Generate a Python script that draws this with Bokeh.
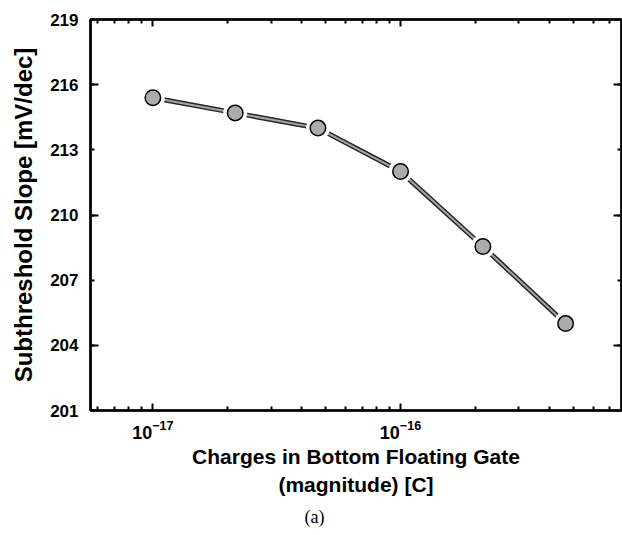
from bokeh.plotting import figure
from bokeh.models import (FixedTicker, LogAxis, LinearAxis, Title, CustomJSTickFormatter,
                          LogTickFormatter, Range1d)
from bokeh.embed import file_html
from bokeh.resources import INLINE

# ---- data ----
charge = [1.0e-17, 2.15e-17, 4.64e-17, 1.0e-16, 2.15e-16, 4.64e-16]
slope = [215.4, 214.7, 214.0, 212.0, 208.55, 205.0]

x_major = [1e-17, 1e-16]
x_minor = [6e-18, 7e-18, 8e-18, 9e-18,
           2e-17, 3e-17, 4e-17, 5e-17, 6e-17, 7e-17, 8e-17, 9e-17,
           2e-16, 3e-16, 4e-16, 5e-16, 6e-16, 7e-16]
y_ticks = [201, 204, 207, 210, 213, 216, 219]
y_long_ticks = [204, 210, 216]

x_lim = (5.6e-18, 7.8e-16)
y_lim = (201, 219)

x_title = "Charges in Bottom Floating Gate"
x_title2 = "(magnitude) [C]"
y_title = "Subthreshold Slope [mV/dec]"
caption = "(a)"

FONT = "Liberation Sans"

p = figure(width=622, height=535, x_axis_type="log",
           x_range=Range1d(*x_lim), y_range=Range1d(*y_lim),
           output_backend="svg", toolbar_location=None,
           min_border_left=90, min_border_right=1, min_border_top=19, min_border_bottom=125)
p.grid.visible = False
p.outline_line_color = "black"
p.outline_line_width = 2
p.background_fill_color = "white"
p.border_fill_color = "white"

blank_fmt = CustomJSTickFormatter(code="return '';")

def style_axis(ax, long_in, short_in):
    ax.axis_line_width = 2.5
    ax.axis_line_color = "black"
    ax.major_tick_in = long_in
    ax.major_tick_out = 0
    ax.minor_tick_in = short_in
    ax.minor_tick_out = 0
    ax.major_tick_line_width = 2
    ax.minor_tick_line_width = 2
    ax.major_tick_line_color = "black"
    ax.minor_tick_line_color = "black"

# bottom x axis
xa = p.xaxis[0]
xa.ticker = FixedTicker(ticks=x_major, minor_ticks=x_minor)
xa.formatter = LogTickFormatter()
style_axis(xa, 7, 4)
xa.major_label_text_font = FONT
xa.major_label_text_font_style = "bold"
xa.major_label_text_font_size = "18px"
xa.major_label_text_color = "black"
xa.major_label_standoff = 9
xa.axis_label = x_title
xa.axis_label_text_font = FONT
xa.axis_label_text_font_style = "bold"
xa.axis_label_text_font_size = "21px"
xa.axis_label_text_color = "black"
xa.axis_label_standoff = 3

# top x axis (ticks only)
xt = LogAxis(ticker=FixedTicker(ticks=x_major, minor_ticks=x_minor), formatter=blank_fmt)
style_axis(xt, 7, 4)
xt.major_label_text_font_size = "0px"
xt.major_label_standoff = 0
p.add_layout(xt, "above")

# left y axis
ya = p.yaxis[0]
ya.ticker = FixedTicker(ticks=y_ticks, minor_ticks=y_long_ticks)
style_axis(ya, 4, 8)
ya.major_label_text_font = FONT
ya.major_label_text_font_style = "bold"
ya.major_label_text_font_size = "17px"
ya.major_label_text_color = "black"
ya.major_label_standoff = 12
ya.axis_label = y_title
ya.axis_label_text_font = FONT
ya.axis_label_text_font_style = "bold"
ya.axis_label_text_font_size = "24px"
ya.axis_label_text_color = "black"
ya.axis_label_standoff = 10

# right y axis (ticks only)
yr = LinearAxis(ticker=FixedTicker(ticks=y_ticks, minor_ticks=y_long_ticks), formatter=blank_fmt)
style_axis(yr, 4, 8)
yr.major_label_text_font_size = "0px"
yr.major_label_standoff = 0
p.add_layout(yr, "right")

# data line (dark outline with lighter core) and markers with white gaps
p.line(charge, slope, line_width=5, line_color="#262626")
p.line(charge, slope, line_width=2, line_color="#a6a6a6")
p.scatter(charge, slope, size=24, fill_color="white", line_color=None)
p.scatter(charge, slope, size=15.5, fill_color="#ababab", line_color="black", line_width=1.5)

# second title line and caption below the x axis
p.add_layout(Title(text=x_title2, align="center", text_font=FONT, text_font_style="bold",
                   text_font_size="21px", text_color="black", standoff=0), "below")
p.add_layout(Title(text=caption, align="left", offset=214, text_font="Liberation Serif",
                   text_font_style="normal", text_font_size="18px", text_color="black",
                   standoff=18), "below")

open("out.html", "w").write(file_html(p, INLINE))
